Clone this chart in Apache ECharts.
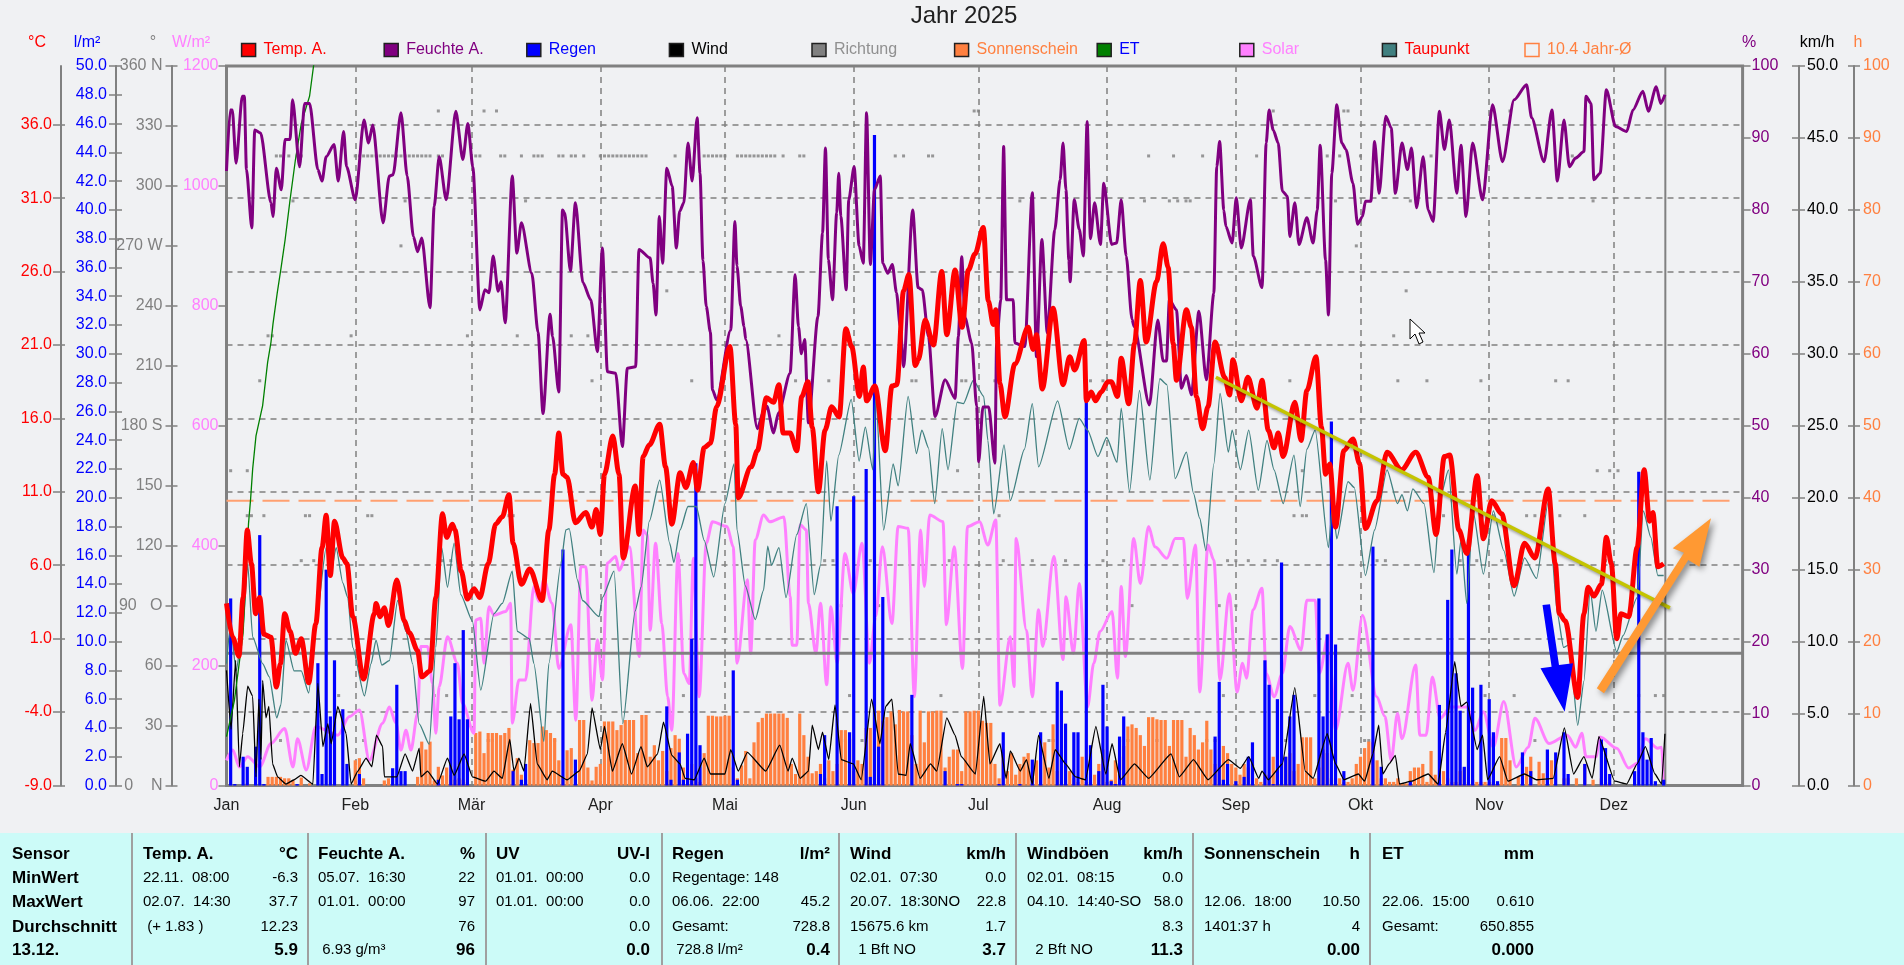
<!DOCTYPE html>
<html>
<head>
<meta charset="utf-8">
<title>Jahr 2025</title>
<script src="https://cdn.jsdelivr.net/npm/echarts@6/dist/echarts.min.js"></script>
<style>
html, body { margin: 0; padding: 0; background: #f0f1f3; overflow: hidden; }
#main { width: 1904px; height: 965px; }
</style>
</head>
<body>
<div id="main"></div>
<script>
// x values are day of the year, 0 = 1 Jan
var monthTicks = [0, 31, 59, 90, 120, 151, 181, 212, 243, 273, 304, 334];
var monthLabels = ['Jan', 'Feb', 'Mär', 'Apr', 'Mai', 'Jun', 'Jul', 'Aug', 'Sep', 'Okt', 'Nov', 'Dez'];
var tempTicks = [-9, -4, 1, 6, 11, 16, 21, 26, 31, 36];
var dirTickLabels = ['0    N', '30', '60', '90   O', '120', '150', '180 S', '210', '240', '270 W', '300', '330', '360 N'];
var yearAverage = 10.4;
var lastDay = 346.4;

var tempData = [[0,3.4],[1.5,1.1],[3,-0.2],[4,3.8],[5,8.4],[6,6.1],[7,2.7],[8,3.8],[9,1.3],[10.7,1.1],[12,-2.3],[13,-0.7],[14,2.7],[15.3,1.5],[16.6,0],[18,1],[19.8,-2],[21.5,2],[23,7.2],[24,9.4],[25,5.3],[26,9],[28,6.5],[29,6.1],[30.4,2.5],[33,-1.75],[35.6,2.7],[36,3.4],[37,2.5],[38,3.1],[39,1.9],[41,5],[42.8,2.2],[44,1.4],[46,0.2],[47,-1.6],[49,-1.2],[50.4,3.8],[52,9.5],[53,7.9],[54.4,8.8],[55,8.4],[56.5,5.6],[58,3.7],[59.6,4.4],[61,3.8],[63,6.1],[64.8,8.8],[66.4,9.3],[68,10.8],[69,7.5],[71,4.7],[73,5.75],[76,3.6],[77.6,8.4],[79,12.2],[80,15],[81,12.2],[82,12],[84,8.9],[86.5,9.6],[88,8.6],[89,9.8],[90,8.1],[91,12.2],[93,14.8],[94.5,12.2],[95.5,6.5],[98.4,11.4],[99.3,8.1],[100.3,13.4],[101.8,14.2],[104.3,15.6],[105.7,12.7],[107.2,8.8],[109.2,12.3],[110.6,11.3],[112.4,13],[113.4,11.1],[115,14],[116.5,14.3],[118,16.8],[121.2,20.9],[122.6,15.6],[123.2,10.6],[126.3,12.7],[127.8,13.8],[130,17.4],[131.7,17.1],[133,18.3],[134,15],[135.7,15],[137.3,13.8],[138.5,17.5],[140,18.5],[141,15.4],[142.5,11],[144.1,15.2],[145.7,16.8],[147.5,16.1],[149.1,22.1],[150.5,20.9],[152.4,17.5],[153.3,19.5],[154.1,17.2],[156.1,18.2],[158.6,13.8],[160.2,18.2],[161.4,18.3],[163,24.7],[164.3,25.8],[165.8,19.6],[166.6,20],[168.2,22.7],[170.2,21],[172.2,26],[173.4,21.7],[175.4,26.1],[177.1,22.2],[178.6,26.1],[180.2,27.2],[182.2,29],[183.4,24],[184.6,22.4],[185.2,23.4],[186.2,18.4],[187.4,16.1],[189.8,19.7],[193,22.2],[194.2,20.7],[195,21.7],[196.4,18],[199,23.5],[201.4,18.3],[203,20.2],[204.2,19.3],[206.5,21.3],[207,17.2],[208.2,17.8],[209.2,17.2],[210.6,17.8],[212.2,18.5],[213,18.5],[214.5,17.5],[215.4,20.1],[217.2,17],[218.6,21.1],[220,25.4],[221.4,21.2],[223.9,25.3],[225.5,27.9],[226.7,26.3],[227.9,21.1],[228.7,18.6],[231.1,23.4],[232.3,22.2],[233.5,17.5],[235,15.3],[236.3,16.8],[238,21.2],[240.3,18.8],[241.5,17.6],[242.3,20],[244.3,17.2],[245.9,18.8],[248.1,16.7],[249.3,18.6],[250.8,15.2],[252.2,14],[253.2,15],[254.4,13.4],[257.2,17.1],[258.7,14.5],[260.1,17.9],[262.3,20.2],[263.6,15.4],[264.6,12.2],[265.6,12.9],[267,8.6],[269,13.8],[271.2,14.6],[272.8,12.9],[274.2,8.5],[277,10.4],[279.4,13.7],[282.9,12.5],[286.3,13.7],[289.3,12],[291.2,8.1],[293.2,13.4],[294.5,13.5],[296.7,8.4],[298.6,6.8],[301.1,12.1],[302.6,7.8],[304.6,10.4],[307,9.5],[310,4.6],[312.5,7.5],[315,6.5],[318.2,11.2],[319.9,6.1],[320.9,2.7],[322.3,2.2],[325.3,-3],[326.8,2.7],[327.8,4.5],[329.2,3.9],[331,4.7],[332.2,7.9],[333.4,6.1],[334.7,1],[335.7,2.7],[337.6,2.5],[339.6,7.2],[341.3,12.5],[342.6,9],[343.4,9.6],[344.6,5.9],[346,6.1]];

var humData = [[0,85.4],[0.9,93.9],[1.4,93.9],[2.3,86.5],[3.8,95.8],[4.3,95.8],[4.8,85.6],[6.1,77.5],[6.8,91.1],[8.2,90.7],[10.7,81],[11.2,79.1],[12,85.8],[13.2,82.8],[14.1,89.8],[15.3,89.8],[15.9,95.3],[17.6,86],[18.8,94.8],[20,94.8],[22,85.6],[23,84],[24,87.4],[25.9,89.1],[26.9,84],[28.2,90.9],[28.9,86],[31,81.4],[33.1,92.5],[34.2,89.3],[35.2,91.8],[37.7,78.2],[39.2,84.7],[40.1,84.9],[42,93.5],[43.5,84.7],[45,76.3],[46,74.2],[47,76.1],[49,66.4],[50,80.5],[51.2,87.4],[52.9,81.4],[55.2,93.7],[56.9,87],[58.1,92],[59.3,86],[61,66.1],[62.2,68.9],[63.2,68.5],[64.2,73.6],[65.4,68.7],[66.1,70],[67.1,64.3],[68.8,84.7],[69.9,74],[71,78.2],[73.5,71.2],[75,63],[76.2,51.7],[77.9,65.5],[78.5,62.4],[80,54.7],[80.9,80],[81.4,79.6],[82.8,71.5],[84,81],[85.8,69.9],[87.7,67.5],[89.3,60.3],[90.5,74.7],[91.7,57.5],[93.7,57.3],[95.3,47.1],[96.5,58],[98.5,58.2],[99.3,74.5],[102,73.3],[102.7,69.8],[103.4,65.4],[104.2,79.1],[105,72.6],[106,85.8],[107.3,83.3],[108.3,74.7],[109.1,79.8],[110.1,81],[111.1,89.3],[112.1,84],[113.3,92.8],[114,85.1],[114.7,73],[115.5,66.6],[116.5,63],[117,55],[118,53.6],[121.4,63.3],[122.4,78.4],[122.9,72.2],[123.8,66.6],[124.6,63.8],[125,62],[127.8,49.6],[129.3,52],[130.1,52.7],[131.7,49],[132.9,51.8],[135.7,57.3],[136.9,71],[137.7,63.8],[138.4,60],[139.2,62],[140.1,50.4],[142.4,65.2],[143.5,76.8],[144.2,88.6],[144.9,73.1],[145.9,67.5],[146.9,79.6],[147.4,85.1],[147.9,79.1],[149.2,68.9],[149.8,81.4],[151.1,86],[152.3,75],[153.3,72.6],[154.1,93.5],[155,72.4],[156,82.8],[157.4,84.7],[158,72.6],[159.2,71.2],[160.3,72.4],[161.3,68.5],[162.2,63.8],[163,58.2],[165.2,80],[166.5,69.2],[167.5,68.9],[169,62.4],[170.6,51.3],[173,56.4],[175.4,53.8],[176.2,62.4],[177,73.5],[177.8,65],[179.4,61.5],[180.6,52.7],[181.1,45],[182.1,52.6],[183.5,52.6],[185,44.8],[185.4,61.5],[186.4,67.5],[187.1,88.8],[187.8,67.5],[189.4,67.5],[189.8,61.5],[192.2,61],[194,82.4],[195,59.6],[196.3,75.9],[197.6,62.9],[199.4,77.2],[200.7,84.2],[201.4,89.3],[202.1,82.8],[202.8,73],[203.1,70],[204.1,81.4],[205.3,77.3],[206.3,73.6],[207.2,92.3],[208,76],[209,81],[210.4,75.2],[211.2,83.7],[213.1,75.2],[214.3,75.4],[215.4,81.4],[216.6,73.6],[218,64.8],[218.5,63.8],[222.2,52.9],[224.2,64.7],[225.5,59],[226.3,59],[227,67.5],[228.7,66.1],[229.9,55.2],[231.1,57],[232.3,54.3],[234.1,65.9],[235.9,56.4],[237.7,68.4],[238.4,86],[239.1,89.5],[240.1,80],[240.6,77.7],[242.1,75.4],[243.1,81.7],[244.3,74.7],[246.5,81.4],[247.2,73.6],[249.3,69.2],[250.3,89.3],[251,93.9],[252,91.1],[253.2,89.3],[254.2,82.6],[255.4,81.9],[256,76.3],[257.2,81],[258.2,75.2],[260.1,78.9],[261.6,75.4],[262.6,80],[263.3,89],[264.6,73],[265.3,65.4],[266.1,85.1],[267.3,94.6],[268.5,89.3],[269.5,88.4],[271.2,83.7],[272.3,78],[273.5,79.1],[274.2,81.2],[275.5,81.2],[276.4,89.5],[277.5,82.3],[279.1,93],[280.4,91.4],[281.4,82.3],[283,89.3],[284.3,85.6],[285.3,88.6],[286.5,80.3],[288.1,87.4],[289.3,80],[290.5,78.4],[292,93.7],[293.2,88.4],[294.4,92.5],[296.2,82.3],[297.2,89],[298.4,79.1],[300,89.3],[302.4,81.4],[304.8,94.6],[307.2,86.7],[310,95.3],[313,97.4],[314.2,92.8],[317.2,86.7],[319.1,93.9],[320.4,84],[322,92.5],[323.3,86],[324.8,87.2],[326.8,88.1],[327.3,95.8],[328.5,94.8],[329.2,84.2],[330.7,85.1],[332.2,96.7],[334.4,91.6],[337.1,90.9],[338.6,93.9],[341,96.5],[342.3,93.7],[344.2,97.1],[345.3,94.8],[346.3,96]];

var dewData = [[0,-0.7],[1,2],[2.3,-1.2],[3.9,1.5],[5.1,6.1],[6.3,1.1],[8.7,-0.7],[10.3,-1.6],[12.1,-4.4],[13.1,-3.5],[14.3,0.9],[16.3,-1.2],[18,-1.2],[19.8,-2.7],[21.5,2],[24,7.2],[25.2,5.6],[26.4,7.2],[28,4.8],[29.2,3.8],[30.4,0.4],[33.2,-2.9],[34.8,-0.7],[36,0.9],[37.4,-0.8],[39.2,-0.5],[41.2,3.6],[43.2,1.5],[44.8,-0.7],[46.4,-4.8],[48.8,-6.2],[50.4,0.4],[51.8,7.2],[53.2,4.5],[54.8,7.5],[56.4,4],[59.2,2.2],[61.2,-2.5],[64.4,2.7],[66.4,3.4],[68.8,5.6],[70,1.5],[72.9,1],[74,-0.7],[76.4,-6],[77.6,-0.7],[80.5,6.1],[81.7,8.4],[82.5,8.5],[84.5,5],[85.7,3.6],[89.7,2.5],[90.5,3.8],[93.3,5.6],[95.4,-4.8],[98.4,2.9],[99.8,4.5],[101.8,9],[104.3,11.8],[106.7,7.5],[107.7,6.2],[109.2,8.4],[111.1,10],[113.1,10],[115,7.7],[117.3,5.2],[120,10.2],[122.2,12.9],[122.9,8.4],[124.9,4.6],[127.3,2.3],[129.3,4.3],[130.3,7.3],[131.2,6],[133,7.2],[134.7,3.8],[137.3,8.1],[139.6,10.2],[141.5,4],[143,6],[144.5,13.1],[145.5,9],[147.4,13.5],[150.4,17.3],[152.3,13.1],[153.8,15.4],[155.6,12.5],[156.3,17.5],[158.2,8.4],[160.5,12.9],[161.7,11.4],[164.1,17.5],[166.1,13.6],[167.4,15.2],[169,14],[170.5,10.2],[172.3,15.3],[173.7,12.5],[175.9,17.1],[177.4,17],[179.8,18.6],[182.3,17.5],[183.3,14.5],[184.7,9.5],[187.2,14.2],[188.7,10.4],[192.1,13.9],[194,17],[195.5,12.7],[200.1,17.2],[202.9,13.9],[205.3,16],[207.3,15.2],[209.8,13.4],[211.9,14.7],[214.4,13],[215.4,16.7],[217.4,11],[219.8,17.9],[222.3,11.8],[224.7,18.7],[226.4,18.3],[228.4,11.9],[231.1,13.7],[232.8,10.9],[234.3,9.2],[235.8,7],[237.7,12.9],[239.2,17.7],[241.2,13.7],[242.1,15.2],[244.1,12.5],[246.1,15.2],[248.4,11.1],[250.5,14.5],[252.2,12.5],[254.4,10.2],[257,13.5],[258.5,10],[260.1,13.9],[262.1,15.2],[265.3,7.2],[266.3,10.2],[267.3,7.8],[270,11.7],[271.5,11.3],[274.2,5.3],[276.4,8.4],[279.4,12.5],[281.9,10.2],[283,10.8],[284.3,9.7],[285.6,11.2],[288.3,10.2],[290.7,5.5],[292.2,10.6],[294.2,12.5],[296.2,5.4],[297.2,7.7],[298.6,3.4],[300.1,9.7],[302.6,5.4],[305,9.7],[307.5,7],[310,3.9],[312.5,6.5],[315.4,5.1],[318.2,10.3],[320.4,2.7],[321.9,0.4],[323.3,0.6],[325.3,-4.9],[326.8,-1.9],[328.3,4.3],[329.7,1.5],[331.2,4.3],[334.7,0.1],[336.2,1.2],[339.6,3.8],[341.1,9.7],[342.9,7.9],[344.6,5.3],[346,5.3]];

var solarData = [[0,42],[1.5,59],[3.1,31],[5.1,48],[8,31],[10.7,70],[14,95],[16,31],[17.1,78],[19.2,26],[21.5,98],[26.8,84],[29.6,115],[32,126],[34.4,42],[37.6,104],[39.2,131],[40.8,104],[42,59],[43.2,92],[44.4,59],[46,120],[46.8,232],[48.4,232],[49.6,170],[50.4,87],[51.2,165],[53.2,248],[55.6,204],[56.8,137],[59.6,87],[60,276],[61.2,279],[62,204],[63.2,298],[64.4,284],[67.2,290],[68.4,304],[68.8,104],[70.4,176],[72,176],[74,332],[75.2,307],[76.4,343],[78.4,304],[80,195],[82.9,268],[84.1,109],[85.3,365],[86.5,365],[88,142],[89.3,243],[90.5,176],[91.7,371],[93.7,382],[94.5,359],[97,398],[99.4,215],[100.3,426],[101.3,418],[102,259],[103.3,404],[104.8,270],[106.2,148],[107.2,92],[108.7,387],[110.1,187],[111.4,170],[112.4,379],[113.8,148],[115.5,404],[117,440],[120.5,432],[122,398],[122.9,204],[125.4,343],[126.2,220],[127.3,410],[129.3,451],[130.8,440],[134.2,448],[135.7,315],[136.2,234],[137.3,234],[138.1,435],[139.6,426],[140.1,304],[141.9,220],[143,304],[144.5,168],[145.5,298],[147,204],[148.9,387],[150.9,320],[153,404],[154.8,204],[156.3,282],[157.9,398],[160.2,270],[161.7,432],[164.1,429],[165.6,148],[167.1,426],[168,332],[169.3,451],[172.5,440],[173.3,268],[175.2,398],[177.2,195],[178.4,432],[181.3,440],[183.3,401],[185.2,443],[186.2,134],[188.7,248],[189.6,165],[190.1,412],[192.6,259],[194,148],[195.5,293],[196.5,232],[199.2,382],[201.4,210],[202.1,315],[203.9,220],[205.3,337],[207.3,131],[208.8,204],[210.3,257],[213.2,290],[214.5,179],[215.4,332],[216.4,215],[218.4,412],[220,337],[222,432],[223.5,398],[226.4,379],[228.4,412],[230.4,412],[231.3,312],[233.3,401],[234.3,156],[236.3,401],[237.7,376],[239.2,176],[241.4,320],[243.3,156],[244.6,204],[245.6,179],[247.1,293],[249.3,329],[250.3,187],[252.2,148],[254.2,187],[256,265],[258.7,226],[260.1,309],[262.1,309],[263.1,187],[265.3,251],[267,92],[270,204],[271.2,159],[273.5,284],[276.9,148],[278.9,115],[280.4,42],[281.9,120],[283,78],[286.3,201],[287.3,84],[288.8,84],[290.3,181],[292.2,112],[294.7,131],[298.6,131],[300.6,92],[302.6,123],[305,64],[307.5,140],[310.5,31],[313.4,64],[315,112],[318.4,70],[322.8,84],[324.8,64],[326.3,87],[327.3,48],[329.7,48],[330.7,81],[334.7,62],[337.6,29],[339.6,37],[341.6,78],[344.6,62],[345.5,64],[346,9]];

var windData = [[0,8],[1.1,3.9],[2.2,8.7],[3.1,1.3],[3.9,3.6],[5.1,6.9],[6.3,6.2],[7.1,0.6],[7.8,6],[8.3,1.8],[8.7,7.3],[9.5,4.7],[10.2,5.5],[11.1,1.5],[12.3,0.6],[14.3,0.1],[16.3,0.4],[17.9,0.7],[20.8,0.1],[22,7.1],[23.2,2.7],[24.4,4.3],[25.2,2.9],[26.8,5.5],[28.8,3.6],[30,0.1],[31.6,1],[33.6,1.9],[35,1.3],[36.1,3.5],[37.6,2.7],[38,0.6],[41,0.6],[43,2.2],[44.8,1],[46.4,2.6],[46.8,0.6],[48.4,1],[50.8,0.1],[53.2,1.9],[54.8,0.7],[57.2,2.2],[59.2,0.6],[62.4,0.3],[64.4,1],[66.4,0.5],[68.2,3.2],[69.2,1],[70.4,1.9],[71.6,1],[73.2,5.7],[74.8,1.5],[77.2,0.4],[78.4,1],[82,0.4],[84.9,1],[86.9,2.2],[88,5.4],[90,2.5],[91,4.1],[92.9,1],[95.3,2.9],[97.5,0.8],[99.8,2.7],[101.3,1.3],[103.8,2.2],[105.2,4.4],[107.2,2.1],[109.2,1.5],[110.4,0.5],[112.6,0.4],[115,1.9],[116.5,0.8],[120,0.8],[121.4,2.5],[123.2,1],[125.4,2.3],[129.8,1],[133.2,2.8],[135.2,1],[136.2,1.9],[138.1,0.5],[140.1,1],[141,4.2],[142.5,2.5],[143.5,3.7],[145,1.8],[146.5,5.6],[148,1.8],[150.9,1.5],[152.8,0.4],[155.3,6],[157.3,2.9],[158.7,5.5],[160.2,6],[161.7,0.8],[163.6,0.7],[164.6,2.9],[167,0.5],[169.5,1.5],[171,1],[173.4,4.7],[175.4,3.5],[176.9,2],[180.3,0.8],[182.3,6.2],[183.8,1.5],[186.2,2.9],[187.7,0.5],[188.7,2.4],[191.1,1],[192.6,1.8],[194,0.1],[195.5,3.5],[198,0.5],[199.5,2.5],[202,1.5],[204.4,0.6],[206.8,0.4],[209.3,4.1],[211.7,0.8],[213.2,2.9],[215.2,0.4],[218.6,1.5],[222,0.5],[227.4,2.2],[229.4,0.6],[232.8,1.8],[236.3,0.4],[241.2,1.8],[244.1,1.2],[246.1,2],[248.5,0.5],[249.3,1],[250.8,0.4],[254.2,1.5],[257.2,6.8],[259.7,1],[261.6,0.5],[265,3.6],[267,1.5],[269,0.4],[272.5,0.8],[274,0.3],[276,2.2],[277.4,4.2],[278.4,0.8],[279.9,1.5],[281.4,2.1],[282.4,0.1],[285.3,0.3],[289.3,0.8],[291.7,0.1],[293.5,3.7],[295.7,8.6],[297.2,5.5],[298.6,5.8],[301.1,2.5],[302.4,3.5],[303.6,0.4],[306.5,2],[308.5,0.3],[312.5,0.8],[315.4,0.4],[319.4,0.5],[322.1,4],[324.3,0.8],[326.8,2],[328.8,0.5],[330.4,3.4],[334.2,0.3],[337.1,0.1],[339.6,1.5],[341.6,2.7],[343.9,0.8],[345.5,0.1],[346.3,3.6]];

var etData = [[0,3.4],[1.9,5.9],[4,10.6],[5.3,18.2],[5.8,19.9],[6.3,22],[7.1,24.3],[8.7,26.4],[9.9,29.4],[10.7,30.8],[11.2,32.1],[12.2,34.2],[13.1,35.9],[14.1,37.9],[15.3,40.7],[16.6,43.5],[18,46],[20,47.9],[21,50.1]];

var rainData = [[1,13],[2,0.1],[4,2],[5,1.3],[7,2.7],[8,17.4],[9,0.1],[17,0.1],[22,8.5],[23,0.8],[24,15],[25,4.8],[26,8.7],[28,5.3],[29,1.5],[32,0.8],[40,1.2],[41,7],[42,1],[43,1],[51,0.4],[54,4.8],[55,8.5],[56,4.6],[57,10.8],[58,4.6],[69,1],[71,0.4],[72,1.5],[81,16.4],[84,1.8],[106,5.5],[107,0.4],[109,2.3],[110,0.4],[111,3.6],[112,10.2],[113,22.4],[114,2.8],[122,8],[123,0.4],[143,0.8],[144,3.5],[147,19.4],[150,3.7],[151,20.1],[154,22],[155,0.6],[156,45.2],[157,2.7],[158,13.1],[165,6.3],[173,1],[176,0.1],[177,0.1],[186,0.1],[187,3.7],[191,0.1],[194,1.8],[196,3.7],[200,7.2],[201,6.6],[202,4.3],[204,3.7],[205,3.7],[207,26.7],[208,2.8],[210,1],[211,7],[212,4.1],[213,0.3],[214,0.1],[215,3.4],[216,4.8],[238,3.4],[239,7.2],[240,0.4],[241,1.5],[243,0.3],[245,0.6],[246,2],[247,3],[250,8.7],[251,7],[252,0.1],[253,6],[254,15.5],[255,2],[256,4.8],[257,6.3],[263,13],[264,4.8],[265,10.5],[266,25.3],[267,9.8],[269,1],[276,16.6],[278,1.3],[285,0.3],[292,5.6],[294,12.9],[295,16.4],[296,7.8],[297,5.2],[298,1.3],[299,17.1],[300,6.8],[302,7],[304,6],[305,3.7],[306,0.3],[312,2.3],[314,1],[318,2.5],[320,2.3],[322,3.7],[323,0.8],[327,1.5],[331,3.2],[332,2.6],[333,0.8],[339,1],[340,21.8],[341,3.7],[342,1.8],[343,3.3],[344,0.3],[346,0.4]];

var sunData = [[5,0.3],[10,1.2],[11,1.2],[12,1.2],[13,1.2],[14,1],[15,1],[16,0.7],[18,1.1],[20,0.3],[31,3.5],[32,3.8],[33,1],[38,0.7],[39,1],[46,1.2],[47,6.1],[48,5],[49,6.1],[50,0.7],[51,2.6],[52,1.4],[53,2.5],[54,1.5],[55,0.8],[56,1],[57,0.8],[58,0.5],[60,7.3],[61,7.5],[62,4.5],[63,7.3],[64,7.3],[65,7.3],[66,7],[67,7.3],[68,8],[69,2.2],[70,3.8],[71,1.5],[72,0.8],[73,6.3],[74,5.9],[75,5.9],[76,8.2],[77,7.7],[78,7.3],[79,6.6],[80,3.5],[81,1],[82,4.9],[83,5.2],[84,2],[85,9.1],[86,9.1],[87,2.5],[88,0.7],[89,2.6],[90,3],[91,8.9],[92,8.9],[93,8.9],[94,7.7],[95,8.4],[96,9.1],[97,9.1],[98,9.1],[99,4.5],[100,9.8],[101,9.8],[102,4],[103,5.6],[104,3.5],[105,4.8],[106,2],[107,5.2],[108,7],[109,6.5],[110,2.5],[111,1],[112,3],[113,1],[114,0.5],[115,4.5],[116,9.7],[117,9.7],[118,9.6],[119,9.6],[120,9.7],[121,9.7],[122,2.5],[123,1],[124,2.8],[125,4.8],[126,1],[127,6],[128,8.8],[129,9.4],[130,10],[131,10],[132,10],[133,10],[134,10],[135,9.4],[136,3],[137,1.6],[138,10],[139,7],[140,4],[141,1.7],[142,2],[143,3],[144,1],[145,3.5],[146,2],[147,3],[148,7.7],[149,7.7],[150,6.5],[151,2],[152,3.5],[153,3],[154,8],[155,8],[156,10.3],[157,10.4],[158,9],[159,9.5],[160,10.3],[161,8.5],[162,10.5],[163,10.3],[164,10.3],[165,7],[166,3],[167,10.4],[168,6],[169,10.3],[170,10.3],[171,10.4],[172,10.4],[173,2.5],[174,4],[175,5],[176,5],[177,2],[178,10.3],[179,10.3],[180,10.4],[181,10.4],[182,9],[183,8.7],[184,8.7],[185,3],[186,1],[187,5],[188,2],[189,4.5],[190,1.5],[191,3],[192,4],[193,4.5],[194,2],[195,3.5],[196,4],[197,6],[198,2.5],[199,8.5],[200,2],[201,5],[202,3],[203,2],[204,1],[205,0.5],[206,4],[207,0.5],[208,0.5],[209,1.5],[210,3],[211,5],[212,0.5],[213,0.8],[214,3.5],[215,4],[216,5.5],[217,8.2],[218,8.5],[219,8],[220,7],[221,5.5],[222,9.5],[223,9.5],[224,9.2],[225,9.1],[226,9.1],[227,5.5],[228,9.1],[229,9.1],[230,9.1],[231,4],[232,8],[233,7],[234,5],[235,6],[236,9],[237,5],[238,3],[239,2.5],[240,5.5],[241,4.5],[242,3],[243,2.5],[244,1.5],[245,3],[246,2.5],[247,3],[248,1],[249,0.5],[250,1.5],[251,1.5],[252,4],[253,2],[254,3.5],[255,4],[256,4.5],[257,2],[258,3],[259,6.7],[260,6.7],[261,6.7],[262,1],[263,2.5],[264,5],[265,4.5],[266,1],[267,1],[268,1],[269,0.5],[270,0.5],[271,1],[272,3],[273,4],[274,5.2],[275,6.1],[276,6],[277,3.5],[278,1],[279,1],[280,0.5],[281,0.5],[282,1],[283,0.3],[284,0.3],[285,2],[286,2.5],[287,2.5],[288,3],[289,0.5],[290,4.8],[291,1.5],[292,1],[293,2],[294,1],[295,0.5],[296,0.5],[297,2],[298,2.5],[299,0.5],[300,0.8],[301,0.5],[302,0.5],[303,0.5],[304,0.5],[305,0.5],[306,0.3],[307,6.6],[308,6.6],[309,3.5],[311,1.2],[313,2.6],[314,4],[316,3.3],[317,1.7],[319,3.5],[322,1],[323,1],[325,1],[327,3],[329,0.8],[331,1],[332,0.5],[333,0.3]];

// wind direction dots, one list of days per compass step
var dirSteps = [337.5, 315, 292.5, 270, 247.5, 225, 202.5, 157.5, 135, 112.5, 90, 45, 22.5];
var dirDays = [
    [51,62,65,180,181,252,269,270,309],
    [12,13,15,17,18,31,32,33,34,35,36,37,38,39,40,41,42,43,44,45,46,47,48,49,51,52,60,61,66,67,71,74,75,76,80,81,83,84,86,90,91,92,93,94,95,96,97,98,99,100,101,108,115,116,117,118,119,120,123,124,125,126,127,128,129,130,131,132,134,138,139,161,163,169,170,222,228,235,248,265,268,273,290,324],
    [16,43,72,191,221,227,229,231,232,267,285,329],
    [42,272],
    [106,284],
    [10,11,30,58,70,83,87,133,281],
    [8,88,112,137,141,145,165,166,177,178,185,196,208,211,256,282,289,302,320,323],
    [1,5,176,259,330,333,335],
    [5,6,9,19,20,34,35,68,69,186,257,259,260,293,305,313,315,321,327],
    [18,21,52,54,104,109,144,146,155,174,187,194,202,211,216,241,243,246,250,253,277,279,297,301,307,332],
    [148,157,218,239,243],
    [27,50,53,110,150,172,240,262,271,303,310,340,344,346],
    [13,33,63,64,79,149,153,198,199,215,217,224,236,238,255,274,275,315]
];

// legend and panel text
var legendNames = ['Temp. A.', 'Feuchte A.', 'Regen', 'Wind', 'Richtung', 'Sonnenschein', 'ET', 'Solar', 'Taupunkt', '10.4 Jahr-Ø'];
var legendColors = ['#ff0000', '#800080', '#0000ff', '#000000', '#808080', '#ff8040', '#008000', '#ff80ff', '#408080', 'none'];
var legendTextColors = ['#ff0000', '#800080', '#0000ff', '#000000', '#909090', '#ff8040', '#0000ff', '#ff80ff', '#ff0000', '#ff8040'];
var unitLabels = ['°C', 'l/m²', '°', 'W/m²', '%', 'km/h', 'h'];
var unitColors = ['#ff0000', '#0000ff', '#808080', '#ff80ff', '#800080', '#000000', '#ff8040'];
var unitX = [37, 87, 153, 191, 1749, 1817, 1858];

var sensorLabels = ['Sensor', 'MinWert', 'MaxWert', 'Durchschnitt', '13.12.'];
var panelLeft = [
    ['Temp. A.', '22.11.  08:00', '02.07.  14:30', ' (+ 1.83 )', ''],
    ['Feuchte A.', '05.07.  16:30', '01.01.  00:00', '', ' 6.93 g/m³'],
    ['UV', '01.01.  00:00', '01.01.  00:00', '', ''],
    ['Regen', 'Regentage: 148', '06.06.  22:00', 'Gesamt:', ' 728.8 l/m²'],
    ['Wind', '02.01.  07:30', '20.07.  18:30NO', '15675.6 km', '  1 Bft NO'],
    ['Windböen', '02.01.  08:15', '04.10.  14:40-SO', '', '  2 Bft NO'],
    ['Sonnenschein', '', '12.06.  18:00', '1401:37 h', ''],
    ['ET', '', '22.06.  15:00', 'Gesamt:', '']
];
var panelRight = [
    ['°C', '-6.3', '37.7', '12.23', '5.9'],
    ['%', '22', '97', '76', '96'],
    ['UV-I', '0.0', '0.0', '0.0', '0.0'],
    ['l/m²', '', '45.2', '728.8', '0.4'],
    ['km/h', '0.0', '22.8', '1.7', '3.7'],
    ['km/h', '0.0', '58.0', '8.3', '11.3'],
    ['h', '', '10.50', '4', '0.00'],
    ['mm', '', '0.610', '650.855', '0.000']
];
var colLeftX = [143, 318, 496, 672, 850, 1027, 1204, 1382];
var colRightX = [298, 475, 650, 830, 1006, 1183, 1360, 1534];
var colLineX = [132, 308, 486, 662, 839, 1016, 1193, 1370];
var rowY = [854, 878, 902, 927, 950];

var fontName = '"Liberation Sans", Arial, sans-serif';
var chart = echarts.init(document.getElementById('main'));

function valueAxis(opt) {
    var axis = {
        type: 'value',
        position: opt.position,
        offset: opt.offset,
        min: opt.min,
        max: opt.max,
        axisLine: { show: opt.line !== false, onZero: false, lineStyle: { color: '#808080', width: 2 } },
        axisTick: { show: true, length: opt.tickOut, lineStyle: { color: '#808080', width: 1.5 } },
        axisLabel: {
            color: opt.color, fontFamily: fontName, fontSize: 16, margin: opt.margin,
            showMinLabel: true, showMaxLabel: true, formatter: opt.format
        },
        splitLine: { show: false }
    };
    if (opt.interval) axis.interval = opt.interval;
    if (opt.ticks) {
        axis.axisTick.customValues = opt.ticks;
        axis.axisLabel.customValues = opt.ticks;
    }
    return axis;
}

// same scale again, only for the part of the tick that crosses to the plot side
function tickTwin(opt, len) {
    var axis = valueAxis(opt);
    axis.axisLine.show = false;
    axis.axisLabel.show = false;
    axis.axisTick.inside = true;
    axis.axisTick.length = len;
    return axis;
}

function fixed1(v) { return v.toFixed(1); }
function plain(v) { return String(v); }

var tempOpt = { position: 'left', offset: 165.5, min: -9, max: 40, ticks: tempTicks, color: '#ff0000', margin: 9, tickOut: 8, format: fixed1 };
var rainOpt = { position: 'left', offset: 110.5, min: 0, max: 50, interval: 2, color: '#0000ff', margin: 9, tickOut: 7, format: fixed1 };
var dirOpt = { position: 'left', offset: 55, min: 0, max: 360, interval: 30, color: '#808080', margin: 9, tickOut: 6,
    format: function (v) { return dirTickLabels[v / 30]; } };
var solarOpt = { position: 'left', offset: 0, min: 0, max: 1200, interval: 200, color: '#ff80ff', margin: 8, tickOut: 8, line: false, format: plain };
var humOpt = { position: 'right', offset: 0, min: 0, max: 100, interval: 10, color: '#800080', margin: 9, tickOut: 8, line: false, format: plain };
var kmhOpt = { position: 'right', offset: 56.4, min: 0, max: 50, interval: 5, color: '#000000', margin: 8, tickOut: 6, format: fixed1 };
var hourOpt = { position: 'right', offset: 111.4, min: 0, max: 100, interval: 10, color: '#ff8040', margin: 9, tickOut: 6, format: plain };

var yAxes = [
    valueAxis(tempOpt), valueAxis(rainOpt), valueAxis(dirOpt), valueAxis(solarOpt),
    valueAxis(humOpt), valueAxis(kmhOpt), valueAxis(hourOpt),
    tickTwin(tempOpt, 4), tickTwin(rainOpt, 6), tickTwin(dirOpt, 6),
    tickTwin(kmhOpt, 7), tickTwin(hourOpt, 6)
];
yAxes[0].splitLine = { show: true, lineStyle: { color: '#808080', type: [6, 5], width: 1.5 } };

var Y_TEMP = 0, Y_RAIN = 1, Y_DIR = 2, Y_SOLAR = 3, Y_HUM = 4, Y_WIND = 5, Y_HOUR = 6;

function lineSeries(name, data, yIndex, color, width, z, dash, smooth) {
    return {
        name: name, type: 'line', data: data, yAxisIndex: yIndex, z: z,
        showSymbol: false, symbol: 'none', silent: true,
        smooth: smooth || false, smoothMonotone: smooth ? 'x' : undefined,
        lineStyle: { color: color, width: width, type: dash || 'solid', join: 'miter' }
    };
}

function barSeries(name, data, yIndex, color, z) {
    return {
        name: name, type: 'bar', data: data, yAxisIndex: yIndex, z: z, silent: true,
        barWidth: 3.2, barGap: '-100%', itemStyle: { color: color }
    };
}

var dirData = [];
dirSteps.forEach(function (step, i) {
    dirDays[i].forEach(function (day) { dirData.push([day, step]); });
});

var trendLine = lineSeries('Trend', [[238.2, 18.8], [347.5, 3.1]], Y_TEMP, '#c4c400', 3.5, 11);
trendLine.lineStyle.shadowBlur = 3;
trendLine.lineStyle.shadowOffsetX = 1;
trendLine.lineStyle.shadowOffsetY = 2;
trendLine.lineStyle.shadowColor = 'rgba(0,0,0,0.35)';

var series = [
    { name: 'Richtung', type: 'scatter', data: dirData, yAxisIndex: Y_DIR, symbol: 'rect', symbolSize: 3, z: 2, silent: true, itemStyle: { color: '#808080' } },
    barSeries('Sonnenschein', sunData, Y_HOUR, '#ff8040', 3),
    lineSeries('Solar', solarData, Y_SOLAR, '#ff80ff', 3, 4, null, 0.3),
    lineSeries('0 Grad', [[0, 0], [365, 0]], Y_TEMP, '#808080', 3, 5),
    lineSeries('Jahr-Ø', [[0, yearAverage], [363, yearAverage]], Y_TEMP, '#ffa070', 2, 5, [27, 9]),
    lineSeries('Ende', [[lastDay, -9], [lastDay, 40]], Y_TEMP, '#808080', 2, 5),
    barSeries('Regen', rainData, Y_RAIN, '#0000ff', 6),
    lineSeries('Taupunkt', dewData, Y_TEMP, '#408080', 1.3, 7, null, 0.2),
    lineSeries('Wind', windData, Y_WIND, '#000000', 1.3, 8, null, 0.12),
    lineSeries('ET', etData, Y_RAIN, '#008000', 1.3, 8),
    lineSeries('Feuchte A.', humData, Y_HUM, '#800080', 3, 9, null, 0.25),
    lineSeries('Temp. A.', tempData, Y_TEMP, '#ff0000', 5, 10, null, 0.3),
    // drawn-in trend line
    trendLine
];

var graphics = [];

function addText(text, x, y, color, size, align, weight) {
    graphics.push({
        type: 'text', z: 50, x: x, y: y, silent: true,
        style: { text: text, fill: color, fontFamily: fontName, fontSize: size, fontWeight: weight || 'normal', align: align, verticalAlign: 'middle' }
    });
}

function addShape(points, fill, stroke, shadow) {
    graphics.push({
        type: 'polygon', z: 40, silent: true, shape: { points: points },
        style: shadow
            ? { fill: fill, stroke: stroke, shadowBlur: 6, shadowOffsetX: 3, shadowOffsetY: 3, shadowColor: 'rgba(0,0,0,0.45)' }
            : { fill: fill, stroke: stroke }
    });
}

addText('Jahr 2025', 964, 16, '#202020', 24, 'center');

legendNames.forEach(function (name, i) {
    var x = 241.6 + i * 142.6;
    graphics.push({
        type: 'rect', z: 50, silent: true, shape: { x: x, y: 43.5, width: 14, height: 13 },
        style: legendColors[i] === 'none'
            ? { fill: 'none', stroke: '#ff8040', lineWidth: 1.5 }
            : { fill: legendColors[i], stroke: '#202020', lineWidth: 1.5 }
    });
    addText(name, x + 22, 50, legendTextColors[i], 16, 'left');
});

unitLabels.forEach(function (unit, i) {
    addText(unit, unitX[i], 43, unitColors[i], 16, 'center');
});

// hand-drawn arrows and the mouse pointer from the screenshot
addShape([[1542.5, 605], [1550, 604.3], [1559, 665], [1573, 663.3], [1564.7, 711.7], [1540.5, 668.3], [1551.6, 666.7]], '#0000ff', 'none', false);
addShape([[1596.8, 688.3], [1604, 693.3], [1688.3, 560], [1699.4, 566.7], [1711, 518.3], [1672.7, 548.3], [1684, 552.7]], '#ff9933', 'none', true);
addShape([[1410, 319], [1410, 339], [1415, 334], [1419, 344], [1423, 342], [1419, 333], [1425, 333]], '#ffffff', '#000000', false);

// sensor panel
graphics.push({
    type: 'rect', z: 45, silent: true, shape: { x: 0, y: 833, width: 1904, height: 132 },
    style: { fill: '#ccfbf8' }
});
colLineX.forEach(function (x) {
    graphics.push({
        type: 'line', z: 46, silent: true, shape: { x1: x, y1: 833, x2: x, y2: 965 },
        style: { stroke: '#a0a0a0', lineWidth: 2 }
    });
});
sensorLabels.forEach(function (label, r) {
    addText(label, 12, rowY[r], '#000000', 17, 'left', 'bold');
});
panelLeft.forEach(function (col, c) {
    col.forEach(function (text, r) {
        if (text) addText(text, colLeftX[c], rowY[r], '#000000', r === 0 ? 17 : 15, 'left', r === 0 ? 'bold' : 'normal');
    });
    panelRight[c].forEach(function (text, r) {
        var strong = r === 0 || r === 4;
        if (text) addText(text, colRightX[c], rowY[r], '#000000', strong ? 17 : 15, 'right', strong ? 'bold' : 'normal');
    });
});

chart.setOption({
    animation: false,
    backgroundColor: '#f0f1f3',
    grid: { left: 226.5, top: 66, right: 161.4, bottom: 179.5, show: true, borderColor: '#808080', borderWidth: 3, backgroundColor: 'transparent' },
    xAxis: {
        type: 'value', min: 0, max: 365,
        axisLine: { show: false },
        axisTick: { show: true, length: 5, customValues: monthTicks, lineStyle: { color: '#808080', width: 1.5 } },
        axisLabel: {
            color: '#202020', fontFamily: fontName, fontSize: 16, margin: 12, customValues: monthTicks,
            formatter: function (v) { return monthLabels[monthTicks.indexOf(v)]; }
        },
        splitLine: { show: true, lineStyle: { color: '#808080', type: [6, 5], width: 1.5 } }
    },
    yAxis: yAxes,
    series: series,
    graphic: graphics
});

window.addEventListener('resize', function () { chart.resize(); });
</script>
</body>
</html>
